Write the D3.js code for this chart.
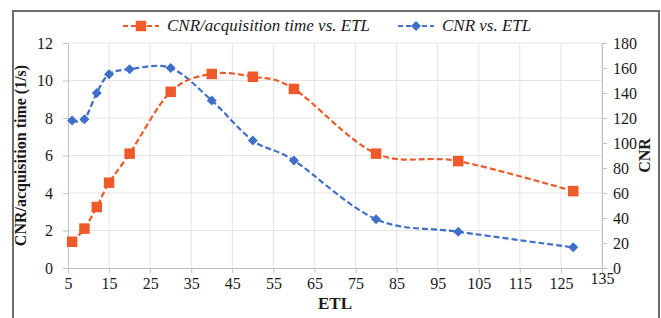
<!DOCTYPE html>
<html>
<head>
<meta charset="utf-8">
<script src="https://cdn.jsdelivr.net/npm/d3@7"></script>
<style>
  body { margin: 0; background: #fff; }
  svg text { font-family: "Liberation Serif", "Times New Roman", serif; }
</style>
</head>
<body>
<svg id="chart" width="661" height="318"></svg>
<script>
// ETL values shared by both series
var etl = [6, 9, 12, 15, 20, 30, 40, 50, 60, 80, 100, 128];
var cnrPerTime = [1.4, 2.1, 3.25, 4.55, 6.1, 9.4, 10.35, 10.2, 9.55, 6.1, 5.7, 4.1];
var cnr = [118, 119, 140, 155, 159, 160, 134, 102, 86, 39, 29, 16.5];

var xTicks = [5, 15, 25, 35, 45, 55, 65, 75, 85, 95, 105, 115, 125, 135];
var leftTicks = [0, 2, 4, 6, 8, 10, 12];
var rightTicks = [0, 20, 40, 60, 80, 100, 120, 140, 160, 180];

var orange = '#ee5a2a';
var blue = '#3f6fc6';

var svg = d3.select('#chart');

// outer frame
svg.append('line').attr('x1', 13).attr('x2', 13).attr('y1', 10).attr('y2', 318)
    .attr('stroke', '#6d6d6d').attr('stroke-width', 2);
svg.append('line').attr('x1', 659).attr('x2', 659).attr('y1', 10).attr('y2', 318)
    .attr('stroke', '#6d6d6d').attr('stroke-width', 2);
svg.append('line').attr('x1', 12).attr('x2', 660).attr('y1', 11).attr('y2', 11)
    .attr('stroke', '#6d6d6d').attr('stroke-width', 2);

var plotLeft = 68, plotRight = 602, plotTop = 43, plotBottom = 268;

var x = d3.scaleLinear().domain([5, 135]).range([plotLeft, plotRight]);
var yL = d3.scaleLinear().domain([0, 12]).range([plotBottom, plotTop]);
var yR = d3.scaleLinear().domain([0, 180]).range([plotBottom, plotTop]);

// gridlines
svg.append('g').selectAll('line')
    .data(leftTicks.slice(1))
    .enter().append('line')
    .attr('x1', plotLeft).attr('x2', plotRight)
    .attr('y1', function (d) { return yL(d); })
    .attr('y2', function (d) { return yL(d); })
    .attr('stroke', '#e4e4e4').attr('stroke-width', 1);

svg.append('g').selectAll('line')
    .data(xTicks.slice(1))
    .enter().append('line')
    .attr('x1', function (d) { return x(d); })
    .attr('x2', function (d) { return x(d); })
    .attr('y1', plotTop).attr('y2', plotBottom)
    .attr('stroke', '#e4e4e4').attr('stroke-width', 1);

// axes
function styleAxis(g) {
    g.select('.domain').attr('stroke', '#bfbfbf');
    g.selectAll('.tick line').attr('stroke', '#bfbfbf');
    g.selectAll('.tick text')
        .attr('fill', '#1a1a1a')
        .style('font-size', '16px')
        .style('font-family', '"Liberation Serif", serif');
}

svg.append('g')
    .attr('transform', 'translate(0,' + plotBottom + ')')
    .call(d3.axisBottom(x).tickValues(xTicks).tickSize(5).tickSizeOuter(0).tickPadding(5))
    .call(styleAxis)
    .call(function (g) {
        g.selectAll('.tick text').filter(function (d) { return d === 135; })
            .attr('dy', '0.4em');
    });

svg.append('g')
    .attr('transform', 'translate(' + plotLeft + ',0)')
    .call(d3.axisLeft(yL).tickValues(leftTicks).tickSize(5).tickSizeOuter(0).tickPadding(10))
    .call(styleAxis);

svg.append('g')
    .attr('transform', 'translate(' + plotRight + ',0)')
    .call(d3.axisRight(yR).tickValues(rightTicks).tickSize(5).tickSizeOuter(0).tickPadding(6))
    .call(styleAxis);

// axis titles
svg.append('text')
    .attr('transform', 'translate(26,' + ((plotTop + plotBottom) / 2) + ') rotate(-90)')
    .attr('text-anchor', 'middle')
    .attr('font-weight', 'bold')
    .attr('font-size', 16)
    .attr('fill', '#1a1a1a')
    .text('CNR/acquisition time (1/s)');

svg.append('text')
    .attr('transform', 'translate(650,' + ((plotTop + plotBottom) / 2) + ') rotate(-90)')
    .attr('text-anchor', 'middle')
    .attr('font-weight', 'bold')
    .attr('font-size', 16)
    .attr('fill', '#1a1a1a')
    .text('CNR');

svg.append('text')
    .attr('x', (plotLeft + plotRight) / 2)
    .attr('y', 309)
    .attr('text-anchor', 'middle')
    .attr('font-weight', 'bold')
    .attr('font-size', 17)
    .attr('fill', '#1a1a1a')
    .text('ETL');

// series
var orangeData = etl.map(function (e, i) { return [e, cnrPerTime[i]]; });
var blueData = etl.map(function (e, i) { return [e, cnr[i]]; });

var lineL = d3.line()
    .x(function (d) { return x(d[0]); })
    .y(function (d) { return yL(d[1]); })
    .curve(d3.curveCardinal.tension(0));

var lineR = d3.line()
    .x(function (d) { return x(d[0]); })
    .y(function (d) { return yR(d[1]); })
    .curve(d3.curveCardinal.tension(0));

svg.append('path')
    .attr('d', lineR(blueData))
    .attr('fill', 'none')
    .attr('stroke', blue)
    .attr('stroke-width', 2.2)
    .attr('stroke-dasharray', '6,3');

svg.append('path')
    .attr('d', lineL(orangeData))
    .attr('fill', 'none')
    .attr('stroke', orange)
    .attr('stroke-width', 2.2)
    .attr('stroke-dasharray', '6,3');

var square = d3.symbol().type(d3.symbolSquare).size(110);
var diamond = d3.symbol().type(d3.symbolSquare).size(50);

svg.append('g').selectAll('path')
    .data(blueData)
    .enter().append('path')
    .attr('d', diamond)
    .attr('transform', function (d) { return 'translate(' + x(d[0]) + ',' + yR(d[1]) + ') rotate(45)'; })
    .attr('fill', blue);

svg.append('g').selectAll('path')
    .data(orangeData)
    .enter().append('path')
    .attr('d', square)
    .attr('transform', function (d) { return 'translate(' + x(d[0]) + ',' + yL(d[1]) + ')'; })
    .attr('fill', orange);

// legend
var legend = [
    { label: 'CNR/acquisition time vs. ETL', color: orange, sym: square, rot: 0, x: 123 },
    { label: 'CNR vs. ETL', color: blue, sym: diamond, rot: 45, x: 398 }
];

var lg = svg.append('g').selectAll('g')
    .data(legend)
    .enter().append('g')
    .attr('transform', function (d) { return 'translate(' + d.x + ',26)'; });

lg.append('line')
    .attr('x1', 0).attr('x2', 36)
    .attr('stroke', function (d) { return d.color; })
    .attr('stroke-width', 2.2)
    .attr('stroke-dasharray', '5,3');

lg.append('path')
    .attr('d', function (d) { return d.sym(); })
    .attr('transform', function (d) { return 'translate(18,0) rotate(' + d.rot + ')'; })
    .attr('fill', function (d) { return d.color; });

lg.append('text')
    .attr('x', 44)
    .attr('y', 5)
    .attr('font-style', 'italic')
    .attr('font-size', 17)
    .attr('fill', '#1a1a1a')
    .text(function (d) { return d.label; });
</script>
</body>
</html>
